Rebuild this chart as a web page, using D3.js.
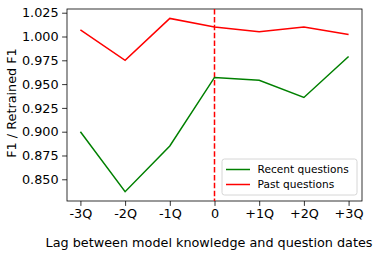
<!DOCTYPE html>
<html><head><meta charset="utf-8">
<script src="https://cdn.jsdelivr.net/npm/d3@7"></script>
<style>body{margin:0;background:#fff}svg{display:block}text{font-family:"DejaVu Sans",sans-serif;fill:#000}</style>
</head><body><svg id="c" width="390" height="258"></svg>
<script>
const lags = [-3,-2,-1,0,1,2,3];
const tickLabels = ["-3Q","-2Q","-1Q","0","+1Q","+2Q","+3Q"];
const recent = [0.900,0.837,0.885,0.957,0.954,0.936,0.979];
const past = [1.007,0.975,1.019,1.010,1.005,1.010,1.002];
const yTicks = [0.850,0.875,0.900,0.925,0.950,0.975,1.000,1.025];
const seriesNames = ["Recent questions","Past questions"];
const colors = ["green","red"];

const svg = d3.select("#c");
const L=67,R=362,T=9,B=201;
const x = d3.scaleLinear().domain([-3.3,3.3]).range([L,R]);
const y = d3.scaleLinear().domain([0.8272,1.0289]).range([B,T]);
const fs = 12.8;

// axes
const ax = svg.append("g").attr("transform",`translate(0,${B})`)
 .call(d3.axisBottom(x).tickValues(lags).tickFormat((d,i)=>tickLabels[i]).tickSize(4.9).tickPadding(3.5));
const ay = svg.append("g").attr("transform",`translate(${L},0)`)
 .call(d3.axisLeft(y).tickValues(yTicks).tickFormat(d3.format(".3f")).tickSize(4.9).tickPadding(3.5));
[ax,ay].forEach(g=>{g.select(".domain").remove();g.selectAll("text").attr("font-size",fs).attr("font-family","DejaVu Sans");g.selectAll("line").attr("stroke","#000").attr("stroke-width",0.8);});

// frame
svg.append("rect").attr("x",L).attr("y",T).attr("width",R-L).attr("height",B-T).attr("fill","none").attr("stroke","#000").attr("stroke-width",0.8);

// zero line
svg.append("line").attr("x1",x(0)).attr("x2",x(0)).attr("y1",T).attr("y2",B)
 .attr("stroke","red").attr("stroke-width",1.5).attr("stroke-dasharray","5.5,2.4");

const line = d3.line().x((d,i)=>x(lags[i])).y(d=>y(d));
[recent,past].forEach((s,k)=>{
 svg.append("path").datum(s).attr("d",line).attr("fill","none").attr("stroke",colors[k]).attr("stroke-width",1.5);
});

// legend
const lg = svg.append("g");
lg.append("rect").attr("x",222).attr("y",159).attr("width",135).attr("height",36).attr("rx",2.5)
 .attr("fill","#fff").attr("fill-opacity",0.8).attr("stroke","#ccc").attr("stroke-width",0.8);
seriesNames.forEach((n,i)=>{
 const yy = 169.5 + i*15;
 lg.append("line").attr("x1",226).attr("x2",250).attr("y1",yy).attr("y2",yy).attr("stroke",colors[i]).attr("stroke-width",1.5);
 lg.append("text").attr("x",257.5).attr("y",yy).attr("dy","0.35em").attr("font-size",10.6).text(n);
});

// labels
svg.append("text").attr("x",209).attr("y",247).attr("text-anchor","middle").attr("font-size",fs)
 .text("Lag between model knowledge and question dates");
svg.append("text").attr("transform",`translate(16,${(T+B)/2 - 2}) rotate(-90)`).attr("text-anchor","middle").attr("font-size",fs).text("F1 / Retrained F1");
</script></body></html>
